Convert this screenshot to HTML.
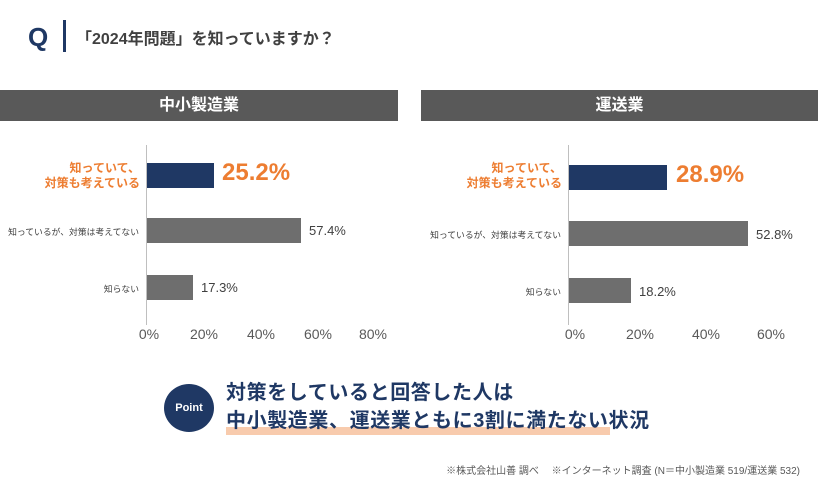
<!DOCTYPE html>
<html><head><meta charset="utf-8"><style>
body{margin:0;width:820px;height:485px;background:#fff;position:relative;overflow:hidden;font-family:"Liberation Sans","Noto Sans CJK JP",sans-serif}
.a{position:absolute;white-space:nowrap}
.hdr{position:absolute;top:90px;height:31px;background:#595959;color:#fff;font-weight:bold;font-size:16px;text-align:center;line-height:31px}
.bar{position:absolute;height:25px}
.lbl{position:absolute;font-size:8.8px;color:#404040;text-align:right;white-space:nowrap}
.or{color:#ed7d31;font-weight:bold;font-size:12px;line-height:15px}
.val{position:absolute;font-size:13px;color:#404040}
.big{position:absolute;font-size:24px;font-weight:bold;color:#ed7d31}
.tk{position:absolute;top:326px;font-size:14px;color:#595959;width:50px;text-align:center}
</style></head><body>
<div class="a" style="left:28px;top:22px;font-size:26px;font-weight:900;color:#1f3864;line-height:30px">Q</div>
<div class="a" style="left:63px;top:20px;width:3px;height:32px;background:#1f3864"></div>
<div class="a" style="left:76px;top:25px;font-size:16px;color:#404040;font-weight:bold">「2024年問題」を知っていますか？</div>

<div class="hdr" style="left:0;width:398px">中小製造業</div>
<div class="hdr" style="left:421px;width:397px">運送業</div>

<!-- left chart -->
<div class="a" style="left:146px;top:145px;width:1px;height:180px;background:#bfbfbf"></div>
<div class="lbl or" style="right:680px;top:161px">知っていて、<br>対策も考えている</div>
<div class="bar" style="left:147px;top:163px;width:67px;background:#1f3864"></div>
<div class="big" style="left:222px;top:159px">25.2%</div>
<div class="lbl" style="right:681px;top:225px">知っているが、対策は考えてない</div>
<div class="bar" style="left:147px;top:218px;width:154px;background:#6e6e6e"></div>
<div class="val" style="left:309px;top:223px">57.4%</div>
<div class="lbl" style="right:681px;top:282px">知らない</div>
<div class="bar" style="left:147px;top:275px;width:46px;background:#6e6e6e"></div>
<div class="val" style="left:201px;top:280px">17.3%</div>
<div class="tk" style="left:124px">0%</div>
<div class="tk" style="left:179px">20%</div>
<div class="tk" style="left:236px">40%</div>
<div class="tk" style="left:293px">60%</div>
<div class="tk" style="left:348px">80%</div>

<!-- right chart -->
<div class="a" style="left:568px;top:145px;width:1px;height:180px;background:#bfbfbf"></div>
<div class="lbl or" style="right:258px;top:161px">知っていて、<br>対策も考えている</div>
<div class="bar" style="left:569px;top:165px;width:98px;background:#1f3864"></div>
<div class="big" style="left:676px;top:161px">28.9%</div>
<div class="lbl" style="right:259px;top:228px">知っているが、対策は考えてない</div>
<div class="bar" style="left:569px;top:221px;width:179px;background:#6e6e6e"></div>
<div class="val" style="left:756px;top:227px">52.8%</div>
<div class="lbl" style="right:259px;top:285px">知らない</div>
<div class="bar" style="left:569px;top:278px;width:62px;background:#6e6e6e"></div>
<div class="val" style="left:639px;top:284px">18.2%</div>
<div class="tk" style="left:550px">0%</div>
<div class="tk" style="left:615px">20%</div>
<div class="tk" style="left:681px">40%</div>
<div class="tk" style="left:746px">60%</div>

<!-- point -->
<div class="a" style="left:164px;top:384px;width:50px;height:48px;border-radius:50%;background:#1f3864;color:#fff;font-size:11px;font-weight:bold;text-align:center;line-height:48px">Point</div>
<div class="a" style="left:226px;top:427px;width:384px;height:8px;background:#f8cbad"></div>
<div class="a" style="left:226px;top:379px;font-size:20px;font-weight:bold;color:#1f3864;line-height:28px;letter-spacing:0.6px">対策をしていると回答した人は<br>中小製造業、運送業ともに3割に満たない状況</div>
<div class="a" style="right:20px;top:462px;font-size:10px;color:#595959">※株式会社山善 調べ　 ※インターネット調査 (N＝中小製造業 519/運送業 532)</div>
</body></html>
